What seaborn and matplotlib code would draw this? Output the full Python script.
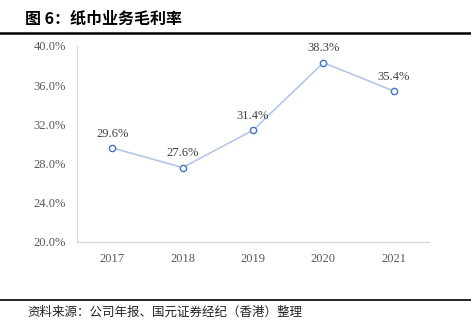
import matplotlib
matplotlib.use("Agg")
import matplotlib.pyplot as plt
import seaborn as sns
import pandas as pd
from matplotlib.lines import Line2D
from matplotlib.ticker import FixedLocator

years = ["2017", "2018", "2019", "2020", "2021"]
margin = [29.6, 27.6, 31.4, 38.3, 35.4]
yticks = [20, 24, 28, 32, 36, 40]

sns.set_style("white")
plt.rcParams['font.family'] = ['Liberation Serif', 'Noto Sans CJK SC']

df = pd.DataFrame({"year": years, "margin": margin})
fig = plt.figure(figsize=(4.71, 3.28), dpi=100)
ax = fig.add_axes([77/471, 1-242/328, 352/471, 196/328])

sns.lineplot(data=df, x="year", y="margin", ax=ax, color="#b4c7e7", lw=1.2,
             marker="o", markersize=4.5, markerfacecolor="white",
             markeredgecolor="#4472c4", markeredgewidth=1.0, sort=False)

ax.set_xlim(-0.5, len(years) - 0.5)
ax.set_ylim(20, 40)
ax.set_yticks(yticks)
ax.set_yticklabels([f"{v:.1f}%" for v in yticks])
ax.set_xlabel("")
ax.set_ylabel("")
ax.xaxis.set_minor_locator(FixedLocator([i - 0.5 for i in range(len(years) + 1)]))
ax.tick_params(axis="x", which="major", length=0, pad=8, labelsize=9, colors="#595959")
ax.tick_params(axis="x", which="minor", length=3, direction="in", color="#d9d9d9", width=0.8)
ax.tick_params(axis="y", which="major", length=3, direction="out", color="#d9d9d9",
               width=0.8, labelsize=9, colors="#595959", pad=5)
for s in ["top", "right"]:
    ax.spines[s].set_visible(False)
for s in ["left", "bottom"]:
    ax.spines[s].set_color("#d9d9d9")
    ax.spines[s].set_linewidth(0.9)

for i, v in enumerate(margin):
    ax.annotate(f"{v:.1f}%", (i, v), xytext=(0, 6), textcoords="offset points",
                ha="center", va="bottom", fontsize=9, color="#404040")

fig.text(25/471, 1-19/328, "图 6：纸巾业务毛利率", fontsize=11.5, fontweight="bold",
         family=['Noto Sans CJK SC'], va="center", ha="left", color="black")
fig.add_artist(Line2D([0, 1], [1-33/328, 1-33/328], color="black", lw=1.8,
                      transform=fig.transFigure))
fig.add_artist(Line2D([0, 1], [1-300/328, 1-300/328], color="black", lw=1.2,
                      transform=fig.transFigure))
fig.text(27/471, 1-312/328, "资料来源：公司年报、国元证券经纪（香港）整理", fontsize=9,
         family=['Noto Sans CJK SC'], va="center", ha="left", color="#222222",
         style="italic")

fig.savefig("out.png", dpi=100)
